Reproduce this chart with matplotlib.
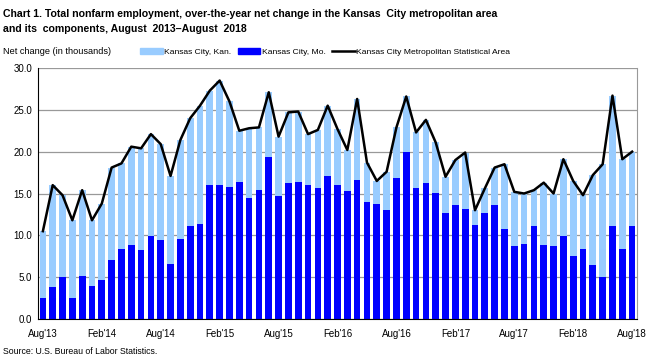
import matplotlib
matplotlib.use("Agg")
import matplotlib.pyplot as plt
from matplotlib.patches import Patch
from matplotlib.lines import Line2D
import numpy as np

plt.rcParams['font.family'] = ['Liberation Sans', 'DejaVu Sans']

# monthly, Aug 2013 .. Aug 2018
months = ["Aug'13", "Sep'13", "Oct'13", "Nov'13", "Dec'13", "Jan'14", "Feb'14", "Mar'14", "Apr'14", "May'14",
          "Jun'14", "Jul'14", "Aug'14", "Sep'14", "Oct'14", "Nov'14", "Dec'14", "Jan'15", "Feb'15", "Mar'15",
          "Apr'15", "May'15", "Jun'15", "Jul'15", "Aug'15", "Sep'15", "Oct'15", "Nov'15", "Dec'15", "Jan'16",
          "Feb'16", "Mar'16", "Apr'16", "May'16", "Jun'16", "Jul'16", "Aug'16", "Sep'16", "Oct'16", "Nov'16",
          "Dec'16", "Jan'17", "Feb'17", "Mar'17", "Apr'17", "May'17", "Jun'17", "Jul'17", "Aug'17", "Sep'17",
          "Oct'17", "Nov'17", "Dec'17", "Jan'18", "Feb'18", "Mar'18", "Apr'18", "May'18", "Jun'18", "Jul'18",
          "Aug'18"]

mo = [2.5, 3.8, 5.0, 2.5, 5.1, 3.9, 4.7, 7.1, 8.4, 8.9,
      8.3, 9.9, 9.5, 6.6, 9.6, 11.1, 11.4, 16.0, 16.0, 15.8,
      16.4, 14.5, 15.4, 19.4, 14.7, 16.3, 16.4, 16.0, 15.7, 17.1,
      16.0, 15.3, 16.6, 14.0, 13.8, 13.0, 16.9, 20.0, 15.7, 16.2,
      15.1, 12.7, 13.6, 13.2, 11.2, 12.7, 13.6, 10.8, 8.7, 9.0,
      11.1, 8.9, 8.7, 9.9, 7.5, 8.4, 6.5, 5.0, 11.1, 8.4,
      11.1]

msa = [10.5, 16.0, 14.8, 11.8, 15.4, 11.8, 13.8, 18.1, 18.6, 20.6,
       20.4, 22.1, 20.9, 17.1, 21.4, 24.0, 25.5, 27.3, 28.5, 26.0,
       22.5, 22.8, 22.9, 27.1, 21.8, 24.7, 24.8, 22.1, 22.6, 25.5,
       22.7, 20.2, 26.3, 18.7, 16.5, 17.6, 22.9, 26.6, 22.3, 23.8,
       21.1, 17.0, 19.0, 19.9, 13.0, 15.6, 18.1, 18.5, 15.2, 15.0,
       15.4, 16.3, 15.0, 19.1, 16.5, 14.8, 17.2, 18.5, 26.7, 19.1,
       20.0]

kan = [round(t - m, 1) for t, m in zip(msa, mo)]

x = np.arange(len(months))

fig = plt.figure(figsize=(6.57, 3.61), dpi=100)
ax = fig.add_axes([0.0578, 0.1163, 0.9118, 0.6953])

ax.bar(x, mo, width=0.68, color='#0000FF', zorder=2)
ax.bar(x, kan, width=0.68, bottom=mo, color='#99CCFF', zorder=2)
ax.plot(x, msa, color='black', lw=1.8, zorder=3)

ax.set_xlim(-0.5, len(months) - 0.5)
ax.set_ylim(0, 30)
ax.set_yticks(np.arange(0, 30.1, 5))
ax.set_yticklabels(['%.1f' % v for v in np.arange(0, 30.1, 5)], fontsize=7)
ax.set_xticks(x[::6])
ax.set_xticklabels(months[::6], fontsize=7)
ax.tick_params(axis='x', length=0, pad=7)
ax.tick_params(axis='y', length=0, pad=4)
ax.yaxis.grid(True, color='#999999', lw=0.9, zorder=0)
ax.set_axisbelow(True)
ax.spines['right'].set_color('#999999')
ax.spines['top'].set_visible(False)
ax.spines['left'].set_color('black')
ax.spines['bottom'].set_color('black')

handles = [Patch(color='#99CCFF'), Patch(color='#0000FF'), Line2D([], [], color='black', lw=1.8)]
labels = ['Kansas City, Kan.', 'Kansas City, Mo.', 'Kansas City Metropolitan Statistical Area']
fig.legend(handles, labels, loc='center left', bbox_to_anchor=(0.213, 0.856), ncol=3, frameon=False,
           fontsize=6.1, handlelength=2.7, handleheight=0.6, handletextpad=0.15, columnspacing=0.75,
           borderaxespad=0, borderpad=0)

fig.text(0.004, 1 - 14 / 361, 'Chart 1. Total nonfarm employment, over-the-year net change in the Kansas  City metropolitan area',
         fontsize=7.55, fontweight='bold', va='center', ha='left')
fig.text(0.004, 1 - 28.5 / 361, 'and its  components, August  2013\u2013August  2018',
         fontsize=7.55, fontweight='bold', va='center', ha='left')
fig.text(0.005, 0.856, 'Net change (in thousands)', fontsize=6.6, va='center', ha='left')
fig.text(0.005, 1 - 352 / 361, 'Source: U.S. Bureau of Labor Statistics.', fontsize=6.3, va='center', ha='left')

fig.savefig('out.png', dpi=100)
